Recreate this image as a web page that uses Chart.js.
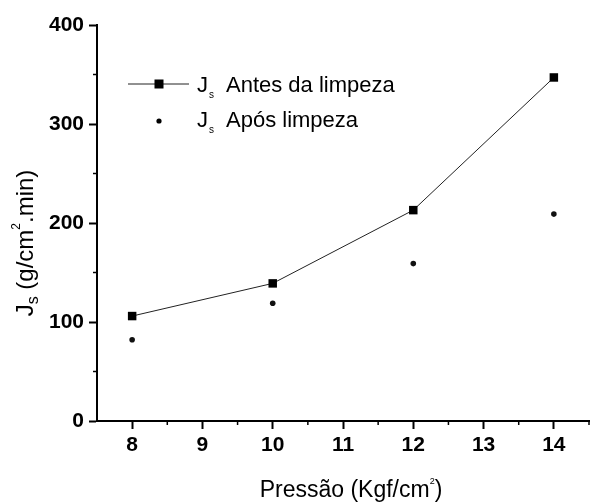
<!DOCTYPE html>
<html>
<head>
<meta charset="utf-8">
<script src="https://cdn.jsdelivr.net/npm/chart.js@4"></script>
<style>
  html, body { margin: 0; padding: 0; background: #fff; }
  canvas { display: block; }
</style>
</head>
<body>
<canvas id="fluxChart" width="595" height="502"></canvas>
<script>
const pressao = [8, 10, 12, 14];
const jsAntes = [106, 139, 213, 347];
const jsApos = [82, 119, 159, 209];
const xTicks = [8, 9, 10, 11, 12, 13, 14];
const yTicks = [0, 100, 200, 300, 400];
const xMinor = [8.5, 9.5, 10.5, 11.5, 12.5, 13.5, 14.5];
const yMinor = [50, 150, 250, 350];

const FONT = '"Liberation Sans", Arial, sans-serif';

// draws text pieces with sub/superscripts; x is left edge or centre
function drawRich(ctx, parts, x, y, align) {
    let total = 0;
    parts.forEach(p => {
        ctx.font = p.size + 'px ' + FONT;
        p.w = ctx.measureText(p.t).width + (p.gap || 0);
        total += p.w;
    });
    let cx = align === 'center' ? x - total / 2 : x;
    parts.forEach(p => {
        ctx.font = p.size + 'px ' + FONT;
        ctx.fillText(p.t, cx, y + (p.dy || 0));
        cx += p.w;
    });
}

const extras = {
    id: 'extras',
    afterDraw(chart) {
        const ctx = chart.ctx;
        const xs = chart.scales.x, ys = chart.scales.y;
        ctx.save();
        ctx.strokeStyle = '#000';
        ctx.lineWidth = 1.5;
        // minor ticks
        xMinor.forEach(v => {
            const px = xs.getPixelForValue(v);
            ctx.beginPath();
            ctx.moveTo(px, ys.bottom);
            ctx.lineTo(px, ys.bottom + 4);
            ctx.stroke();
        });
        yMinor.forEach(v => {
            const py = ys.getPixelForValue(v);
            ctx.beginPath();
            ctx.moveTo(xs.left, py);
            ctx.lineTo(xs.left - 4, py);
            ctx.stroke();
        });

        ctx.fillStyle = '#000';
        ctx.textBaseline = 'alphabetic';
        ctx.textAlign = 'left';

        // legend
        ctx.strokeStyle = '#222';
        ctx.lineWidth = 1;
        ctx.beginPath();
        ctx.moveTo(128, 84);
        ctx.lineTo(189, 84);
        ctx.stroke();
        ctx.fillRect(154.5, 79.5, 9, 9);
        ctx.beginPath();
        ctx.arc(159, 121, 2.6, 0, Math.PI * 2);
        ctx.fill();
        drawRich(ctx, [{t: 'J', size: 22, gap: 1}, {t: 's', size: 10, dy: 6, gap: 12}, {t: 'Antes da limpeza', size: 22}], 197, 92);
        drawRich(ctx, [{t: 'J', size: 22, gap: 1}, {t: 's', size: 10, dy: 6, gap: 12}, {t: 'Após limpeza', size: 22}], 197, 127);

        // x title
        drawRich(ctx, [{t: 'Pressão (Kgf/cm', size: 23}, {t: '2', size: 9, dy: -13}, {t: ')', size: 23}], 351, 497, 'center');

        // y title
        ctx.translate(33, 243);
        ctx.rotate(-Math.PI / 2);
        drawRich(ctx, [{t: 'J', size: 24}, {t: 's', size: 16, dy: 5}, {t: ' (g/cm', size: 24}, {t: '2', size: 12, dy: -13}, {t: '.min)', size: 24}], 0, 0, 'center');
        ctx.restore();
    }
};

const ctx = document.getElementById('fluxChart').getContext('2d');
const fluxChart = new Chart(ctx, {
    type: 'line',
    data: {
        datasets: [{
            label: 'Js Antes da limpeza',
            data: pressao.map((p, i) => ({x: p, y: jsAntes[i]})),
            borderColor: '#222',
            borderWidth: 1,
            backgroundColor: '#000',
            pointStyle: 'rect',
            pointRadius: 6,
            pointBorderWidth: 0,
            tension: 0
        }, {
            label: 'Js Após limpeza',
            data: pressao.map((p, i) => ({x: p, y: jsApos[i]})),
            showLine: false,
            backgroundColor: '#111',
            borderColor: '#111',
            pointStyle: 'circle',
            pointRadius: 2.8,
            pointBorderWidth: 0
        }]
    },
    options: {
        responsive: false,
        animation: false,
        devicePixelRatio: 1,
        layout: { padding: { top: 25, right: 1, left: 0, bottom: 0 } },
        plugins: { legend: { display: false }, tooltip: { enabled: false } },
        scales: {
            x: {
                type: 'linear',
                min: 7.5,
                max: 14.5,
                afterFit: s => { s.height = 81; },
                afterBuildTicks: s => { s.ticks = xTicks.map(v => ({value: v})); },
                border: { color: '#000', width: 2 },
                grid: { drawOnChartArea: false, tickLength: 8, tickColor: '#000', tickWidth: 2 },
                ticks: { color: '#000', padding: 4, font: { family: FONT, size: 21, weight: 'bold' } }
            },
            y: {
                min: 0,
                max: 400,
                afterFit: s => { s.width = 97; },
                afterBuildTicks: s => { s.ticks = yTicks.map(v => ({value: v})); },
                border: { color: '#000', width: 2 },
                grid: { drawOnChartArea: false, tickLength: 8, tickColor: '#000', tickWidth: 2 },
                ticks: { color: '#000', padding: 5, font: { family: FONT, size: 21, weight: 'bold' } }
            }
        }
    },
    plugins: [extras]
});
</script>
</body>
</html>
